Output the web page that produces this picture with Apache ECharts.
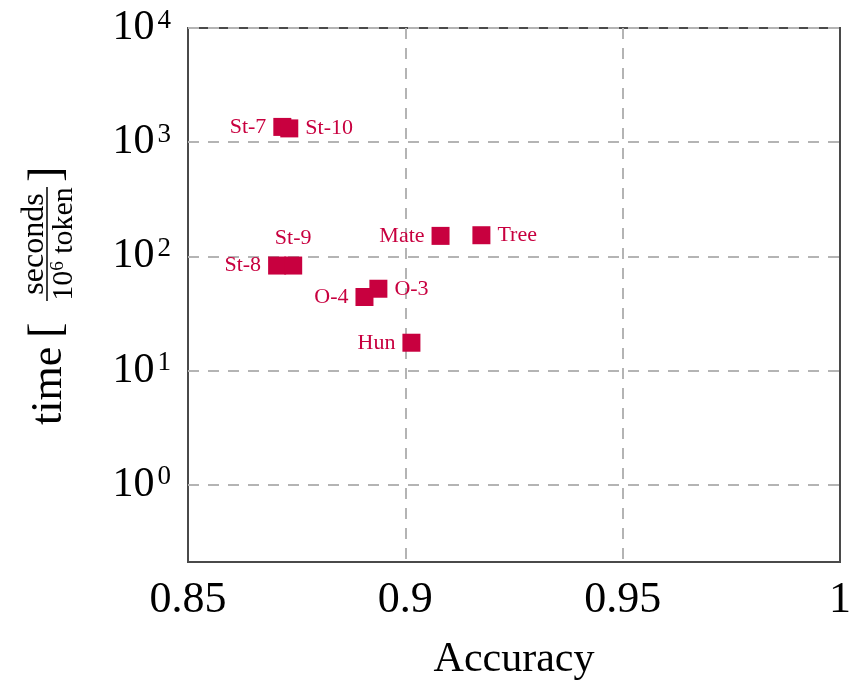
<!DOCTYPE html>
<html>
<head>
<meta charset="utf-8">
<script src="https://cdn.jsdelivr.net/npm/echarts@6/dist/echarts.min.js"></script>
<style>
  html, body { margin: 0; padding: 0; background: #fff; }
  #chart { width: 852px; height: 680px; }
</style>
</head>
<body>
<div id="chart"></div>
<script>
// ---- data ----
const methods  = ['St-7', 'St-10', 'St-8', 'St-9', 'O-4', 'O-3', 'Hun', 'Mate', 'Tree'];
const accuracy = [0.8717, 0.8733, 0.8705, 0.8742, 0.8906, 0.8938, 0.9014, 0.9081, 0.9175];
const timeSecPerMTok = [1360, 1320, 83, 83, 44, 52, 17.5, 151, 153];
const xTicks = [0.85, 0.9, 0.95, 1];
const yExponents = [0, 1, 2, 3, 4];

// ---- presentation ----
const SERIF = "'Liberation Serif', 'DejaVu Serif', serif";
const RED = '#C8003F';
const labelSide = { 'St-7': 'left', 'St-10': 'right', 'St-8': 'left', 'St-9': 'top',
                    'O-4': 'left', 'O-3': 'right', 'Hun': 'left', 'Mate': 'left', 'Tree': 'right' };

const points = methods.map((m, i) => ({
  name: m,
  value: [accuracy[i], timeSecPerMTok[i]],
  label: { position: labelSide[m] }
}));

const chart = echarts.init(document.getElementById('chart'), null, { renderer: 'canvas' });

chart.setOption({
  backgroundColor: '#fff',
  animation: false,
  grid: { left: 188, right: 12, top: 28, bottom: 118, show: true,
          containLabel: false, outerBoundsMode: 'none',
          borderColor: '#4a4a4a', borderWidth: 2, backgroundColor: 'transparent' },
  xAxis: {
    type: 'value',
    min: xTicks[0], max: xTicks[xTicks.length - 1], interval: 0.05,
    name: 'Accuracy', nameLocation: 'middle', nameGap: 77,
    nameTextStyle: { fontFamily: SERIF, fontSize: 42, color: '#000' },
    axisLine: { show: false },
    axisTick: { show: false },
    axisLabel: { fontFamily: SERIF, fontSize: 44, color: '#000', margin: 16,
                 formatter: v => String(+v.toFixed(2)) },
    splitLine: { show: true, showMinLine: false, showMaxLine: false,
                 lineStyle: { color: '#b4b4b4', width: 2, type: [11, 9] } }
  },
  yAxis: {
    type: 'log', logBase: 10,
    min: 0.21, max: Math.pow(10, yExponents[yExponents.length - 1]),
    axisLine: { show: false },
    axisTick: { show: false },
    axisLabel: {
      margin: 17, showMinLabel: false,
      formatter: v => {
        const e = Math.round(Math.log10(v));
        if (yExponents.indexOf(e) < 0 || Math.abs(Math.log10(v) - e) > 1e-6) return '';
        return '{b|10}{s|' + e + '}';
      },
      rich: {
        b: { fontFamily: SERIF, fontSize: 42, color: '#000' },
        s: { fontFamily: SERIF, fontSize: 27, color: '#000', verticalAlign: 'top', padding: [0, 0, 0, 3] }
      }
    },
    splitLine: { show: true, showMinLine: false, showMaxLine: true,
                 lineStyle: { color: '#b4b4b4', width: 2, type: [11, 9] } }
  },
  graphic: [{
    type: 'group', x: 47, y: 425, rotation: Math.PI / 2, silent: true,
    children: [
      { type: 'text', x: 0, y: 2,
        style: { text: 'time', fontFamily: SERIF, fontSize: 44, fill: '#000',
                 textAlign: 'left', textVerticalAlign: 'middle' } },
      { type: 'text', x: 87, y: 1,
        style: { text: '[', fontFamily: SERIF, fontSize: 46, fill: '#000',
                 textAlign: 'left', textVerticalAlign: 'middle' } },
      { type: 'text', x: 181, y: 4,
        style: { text: 'seconds', fontFamily: SERIF, fontSize: 32, fill: '#000',
                 textAlign: 'center', textVerticalAlign: 'bottom' } },
      { type: 'line', shape: { x1: 124, y1: 0, x2: 238, y2: 0 },
        style: { stroke: '#000', lineWidth: 1.5 } },
      { type: 'text', x: 181, y: 2,
        style: { text: '{a|10}{s|6}{a| token}', fill: '#000',
                 textAlign: 'center', textVerticalAlign: 'top',
                 rich: {
                   a: { fontFamily: SERIF, fontSize: 30, fill: '#000', color: '#000' },
                   s: { fontFamily: SERIF, fontSize: 19, fill: '#000', color: '#000', verticalAlign: 'top' }
                 } } },
      { type: 'text', x: 243, y: 1,
        style: { text: ']', fontFamily: SERIF, fontSize: 46, fill: '#000',
                 textAlign: 'left', textVerticalAlign: 'middle' } }
    ]
  }],
  series: [{
    type: 'scatter',
    symbol: 'rect',
    symbolSize: 18,
    itemStyle: { color: RED, opacity: 1 },
    label: {
      show: true, formatter: '{b}', distance: 7,
      fontFamily: SERIF, fontSize: 22, color: RED
    },
    data: points,
    z: 5
  }]
});
</script>
</body>
</html>
